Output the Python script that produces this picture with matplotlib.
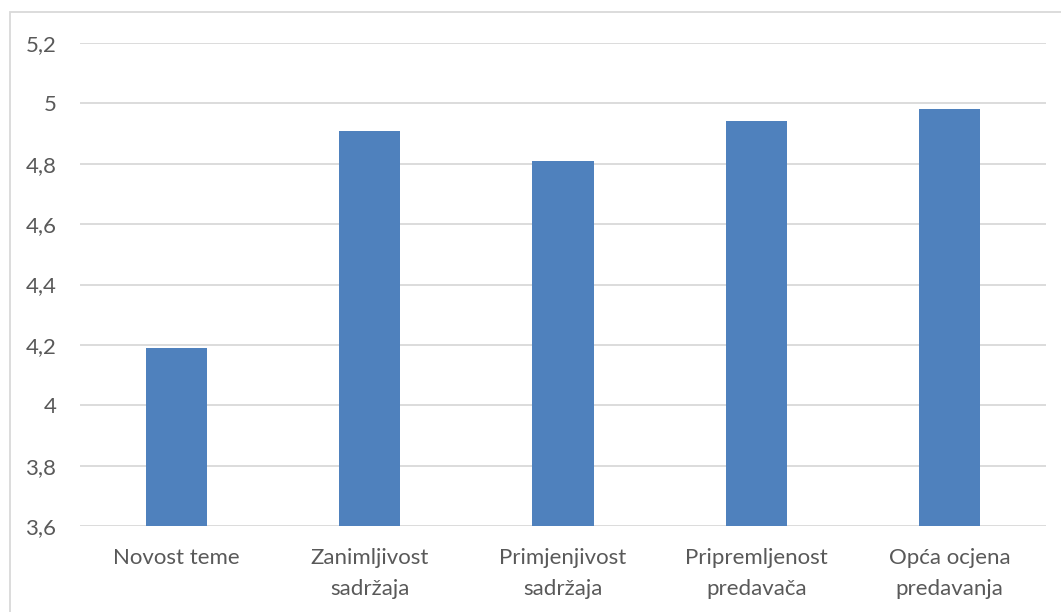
import matplotlib.pyplot as plt
from matplotlib.patches import Rectangle
from matplotlib.ticker import FuncFormatter

categories = ["Novost teme", "Zanimljivost\nsadržaja", "Primjenjivost\nsadržaja",
              "Pripremljenost\npredavača", "Opća ocjena\npredavanja"]
values = [4.19, 4.91, 4.81, 4.94, 4.98]
yticks = [3.6, 3.8, 4.0, 4.2, 4.4, 4.6, 4.8, 5.0, 5.2]

plt.rcParams['font.family'] = ['Lato', 'DejaVu Sans']

fig = plt.figure(figsize=(10.61, 6.12), dpi=100)
ax = fig.add_axes([80 / 1061, 86 / 612, 966 / 1061, 483 / 612])

x = range(len(categories))
ax.bar(x, values, width=0.316, color="#4F81BD", zorder=3)

ax.set_ylim(3.6, 5.2)
ax.set_xlim(-0.5, len(categories) - 0.5)
ax.set_yticks(yticks)
ax.yaxis.set_major_formatter(FuncFormatter(lambda v, p: f"{v:g}".replace(".", ",")))
ax.set_xticks(list(x))
ax.set_xticklabels(categories, fontsize=16, color="#595959", linespacing=1.65)
ax.tick_params(axis='y', labelsize=16, labelcolor="#595959", length=0, pad=17)
ax.tick_params(axis='x', length=0, pad=16)
ax.grid(axis='y', color="#D9D9D9", linewidth=1.3, zorder=0)
for s in ax.spines.values():
    s.set_visible(False)

# outer chart border
fig.patches.append(Rectangle((10 / 1061, -0.1), 1.2, (612 - 12) / 612 + 0.1,
                             transform=fig.transFigure, fill=False,
                             edgecolor="#D9D9D9", linewidth=1.3))

fig.savefig("out.png", dpi=100)
